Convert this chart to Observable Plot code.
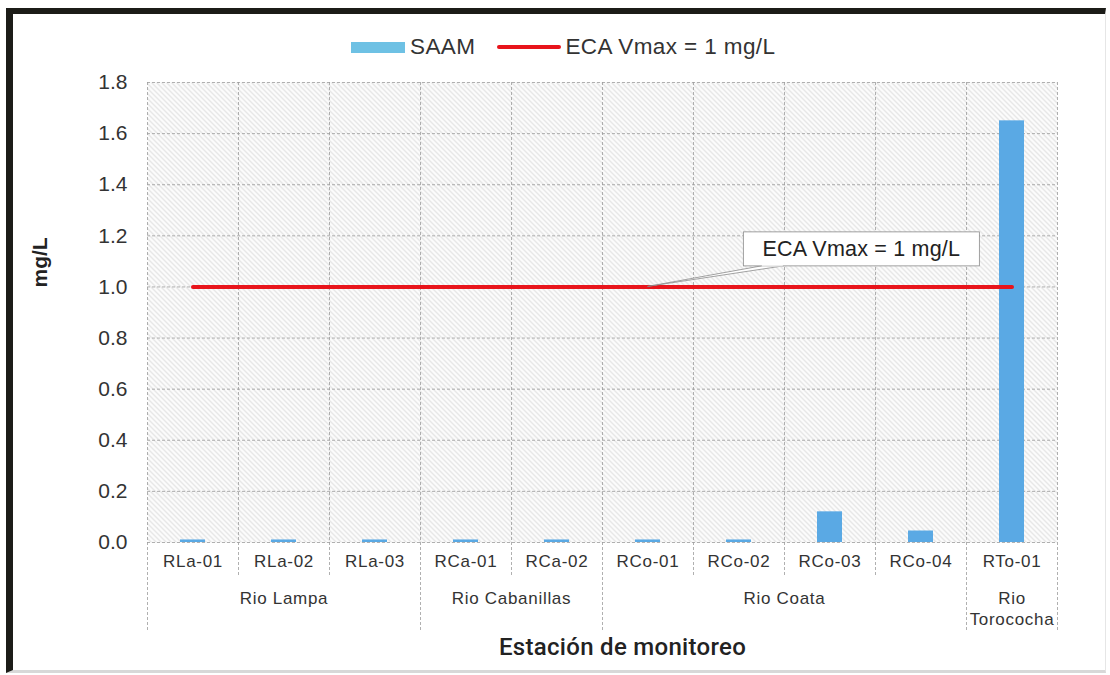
<!DOCTYPE html>
<html>
<head>
<meta charset="utf-8">
<script src="https://cdn.jsdelivr.net/npm/d3@7"></script>
<script src="https://cdn.jsdelivr.net/npm/@observablehq/plot@0.6"></script>
<style>
  body { margin: 0; background: #fff; font-family: "Liberation Sans", Arial, sans-serif; }
  #box { position: absolute; left: 6px; top: 8px; width: 1092px; height: 656px;
         border-left: 7px solid #1c1c18; border-top: 6px solid #1c1c18;
         border-right: 1px solid #e6e6e6; border-bottom: 3px solid #d8d8d8; background: #fff; }
  #legend { position: absolute; left: 338px; top: 22px; height: 22px; display: flex; align-items: center;
            font-size: 22.5px; letter-spacing: 0.4px; color: #333; white-space: nowrap; }
  #legend .sw-bar { display: inline-block; width: 54px; height: 11px; background: #6EC1E4; }
  #legend .sw-line { display: inline-block; width: 64px; height: 4px; background: #E8141B; border-radius: 2px; }
  #chart { position: absolute; left: 0; top: 50px; }
</style>
</head>
<body>
<div id="box">
  <div id="legend">
    <span class="sw-bar"></span><span style="margin-left:5px">SAAM</span>
    <span class="sw-line" style="margin-left:22px"></span><span style="margin-left:4px">ECA Vmax = 1 mg/L</span>
  </div>
  <div id="chart"></div>
</div>
<script>
// ---- data ----
const stations = ["RLa-01", "RLa-02", "RLa-03", "RCa-01", "RCa-02", "RCo-01", "RCo-02", "RCo-03", "RCo-04", "RTo-01"];
const saam = [0.01, 0.01, 0.01, 0.01, 0.01, 0.01, 0.01, 0.12, 0.045, 1.65];
const rivers = ["Rio Lampa", "Rio Cabanillas", "Rio Coata", "Rio\nTorococha"];
const riverStationCounts = [3, 2, 4, 1];
const ecaLimit = 1;
const yTicks = [0, 0.2, 0.4, 0.6, 0.8, 1.0, 1.2, 1.4, 1.6, 1.8];
const annotation = { label: "ECA Vmax = 1 mg/L", x: 7.85, y: 1.147, tipX: 5.5, tipY: 1.0 };

// ---- derived tables ----
const rows = stations.map((s, i) => ({ station: s, i, value: saam[i] }));
const groups = [];
let start = 0;
rivers.forEach((r, k) => { groups.push({ name: r, start, end: start + riverStationCounts[k] }); start += riverStationCounts[k]; });
const groupEdges = [0, ...groups.map(g => g.end)];
const stationEdges = d3.range(1, stations.length).filter(e => !groupEdges.includes(e));

const gridStyle = { stroke: "#9c9c9c", strokeWidth: 0.8, strokeDasharray: "3,2" };

function annotationMark(index, scales) {
  const g = d3.create("svg:g");
  const cx = scales.x(annotation.x), cy = scales.y(annotation.y);
  const tx = scales.x(annotation.tipX), ty = scales.y(annotation.tipY);
  const w = 236, h = 34;
  g.append("polygon")
    .attr("points", `${tx},${ty} ${cx - 100},${cy + h / 2} ${cx - 78},${cy + h / 2}`)
    .attr("fill", "#fff").attr("stroke", "#8a8a8a").attr("stroke-width", 0.8);
  g.append("rect")
    .attr("x", cx - w / 2).attr("y", cy - h / 2).attr("width", w).attr("height", h)
    .attr("fill", "#fff").attr("stroke", "#8a8a8a").attr("stroke-width", 0.8);
  g.append("line")
    .attr("x1", cx - 99.5).attr("x2", cx - 78.5).attr("y1", cy + h / 2).attr("y2", cy + h / 2)
    .attr("stroke", "#fff").attr("stroke-width", 1.2);
  g.append("text")
    .attr("x", cx).attr("y", cy).attr("text-anchor", "middle").attr("dy", "0.35em")
    .attr("font-size", 21.5).attr("letter-spacing", "0.2px").attr("fill", "#222").text(annotation.label);
  return g.node();
}

const chart = Plot.plot({
  width: 1092,
  height: 606,
  marginLeft: 134,
  marginRight: 48,
  marginTop: 18,
  marginBottom: 128,
  style: { fontFamily: "'Liberation Sans', Arial, sans-serif", fontSize: "17px", color: "#333", background: "transparent", overflow: "visible" },
  x: { type: "linear", domain: [0, stations.length], axis: null },
  y: { domain: [0, 1.8], axis: null },
  marks: [
    Plot.frame({ fill: "url(#hatch)", stroke: null }),
    Plot.ruleY(yTicks, gridStyle),
    Plot.ruleX(stationEdges, { ...gridStyle, insetBottom: -33 }),
    Plot.ruleX(groupEdges, { ...gridStyle, insetBottom: -88 }),
    Plot.rectY(rows, { x1: "i", x2: d => d.i + 1, y: "value", insetLeft: 33, insetRight: 33, fill: "#5AA9E4" }),
    Plot.line(rows, { x: d => d.i + 0.5, y: () => ecaLimit, stroke: "#E8141B", strokeWidth: 4, strokeLinecap: "round" }),
    annotationMark,
    Plot.axisY({ ticks: yTicks, tickFormat: d3.format(".1f"), tickSize: 0, tickPadding: 20, fontSize: 21, label: null, color: "#333" }),
    Plot.axisX({ ticks: rows.map(d => d.i + 0.5), tickFormat: t => stations[Math.floor(t)], tickSize: 0, tickPadding: 12, fontSize: 17, label: null, color: "#333" }),
    Plot.text(groups, { x: d => (d.start + d.end) / 2, text: "name", frameAnchor: "bottom", lineAnchor: "top", dy: 47, fontSize: 17, lineHeight: 1.22, fill: "#333" }),
    Plot.text(["mg/L"], { frameAnchor: "left", rotate: -90, dx: -107, dy: -25, fontWeight: "bold", fontSize: 21, fill: "#222" }),
    Plot.text(["Estación de monitoreo"], { frameAnchor: "bottom", dx: 20, dy: 112, fontSize: 24, fontWeight: 500, fontFamily: "Roboto", fill: "#222" })
  ]
});

// letter spacing like the reference's category labels
const spacedWords = new Set([...stations, ...rivers.flatMap(r => r.split("\n")), ...rivers.map(r => r.replace("\n", ""))]);
d3.select(chart).selectAll("text").filter(function () { return spacedWords.has(this.textContent); })
  .attr("letter-spacing", "0.7px");
d3.select(chart).selectAll("text").filter(function () { return this.textContent === "Estación de monitoreo"; })
  .attr("letter-spacing", "0.3px");

const defs = d3.select(chart).insert("defs", ":first-child");
const pat = defs.append("pattern").attr("id", "hatch").attr("width", 5).attr("height", 5).attr("patternUnits", "userSpaceOnUse");
pat.append("rect").attr("width", 5).attr("height", 5).attr("fill", "#fbfbfb");
pat.append("path").attr("d", "M0,0L5,5M-1,4L1,6M4,-1L6,1").attr("stroke", "#b9b9b9").attr("stroke-width", 0.6);

document.getElementById("chart").appendChild(chart);
</script>
</body>
</html>
